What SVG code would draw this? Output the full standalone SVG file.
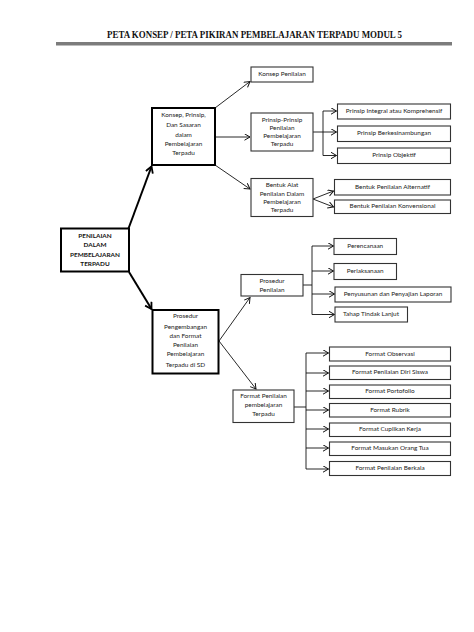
<svg xmlns="http://www.w3.org/2000/svg" width="474" height="632" viewBox="0 0 474 632">
<style>
.bx{fill:#fff;stroke:#333;stroke-width:1.1}
.tk{fill:#fff;stroke:#000;stroke-width:2}
.t{font-family:Lato,"Liberation Sans",sans-serif;font-size:6.4px;fill:#222;text-anchor:middle;dominant-baseline:middle}
.tb{font-family:Lato,"Liberation Sans",sans-serif;font-size:6.4px;fill:#111;text-anchor:middle;dominant-baseline:middle;font-weight:bold}
.ln{fill:none;stroke:#111;stroke-width:0.9}
.thk{fill:none;stroke:#000;stroke-width:2}
</style>
<defs>
<marker id="ah" markerUnits="userSpaceOnUse" markerWidth="10" markerHeight="10" refX="6" refY="3.5" orient="auto" viewBox="0 0 10 10">
<path d="M0.5,0.3 L6,3.5 L0.5,6.7" fill="none" stroke="#111" stroke-width="1"/>
</marker>
<marker id="ahk" markerUnits="userSpaceOnUse" markerWidth="12" markerHeight="12" refX="7" refY="4.5" orient="auto" viewBox="0 0 12 12">
<path d="M0.8,0.8 L7,4.5 L0.8,8.2" fill="none" stroke="#000" stroke-width="1.8"/>
</marker>
</defs>
<rect width="474" height="632" fill="#fff"/>
<g id="title">
<text x="107" y="38" font-family="'Liberation Serif',serif" font-weight="bold" font-size="9.6" fill="#111" textLength="295" lengthAdjust="spacingAndGlyphs">PETA KONSEP / PETA PIKIRAN PEMBELAJARAN TERPADU MODUL 5</text>
<rect x="56" y="42" width="396" height="3.5" fill="#7c7c7c"/>
</g>
<g id="connectors">
<line class="thk" x1="128.5" y1="228.5" x2="151.5" y2="166.5" marker-end="url(#ahk)"/>
<line class="thk" x1="129" y1="272" x2="151.5" y2="309" marker-end="url(#ahk)"/>
<line class="ln" x1="215" y1="108" x2="250" y2="81.5" marker-end="url(#ah)"/>
<line class="ln" x1="216" y1="137" x2="250" y2="137" marker-end="url(#ah)"/>
<line class="ln" x1="215" y1="165" x2="250" y2="189" marker-end="url(#ah)"/>
<polyline class="ln" points="313,132 323,132"/>
<polyline class="ln" points="323,111 323,155.5"/>
<line class="ln" x1="323" y1="111" x2="336.5" y2="111" marker-end="url(#ah)"/>
<line class="ln" x1="323" y1="132" x2="336.5" y2="132" marker-end="url(#ah)"/>
<line class="ln" x1="323" y1="155.5" x2="336.5" y2="155.5" marker-end="url(#ah)"/>
<line class="ln" x1="313" y1="199" x2="333.5" y2="191" marker-end="url(#ah)"/>
<line class="ln" x1="313" y1="199" x2="333.5" y2="207" marker-end="url(#ah)"/>
<line class="ln" x1="219" y1="341" x2="250" y2="297.5" marker-end="url(#ah)"/>
<line class="ln" x1="219" y1="341" x2="256" y2="389" marker-end="url(#ah)"/>
<polyline class="ln" points="303,285 312,285"/>
<polyline class="ln" points="312,246 312,314.5"/>
<line class="ln" x1="312" y1="246" x2="333.5" y2="246" marker-end="url(#ah)"/>
<line class="ln" x1="312" y1="271" x2="333.5" y2="271" marker-end="url(#ah)"/>
<line class="ln" x1="312" y1="294" x2="334.5" y2="294" marker-end="url(#ah)"/>
<line class="ln" x1="312" y1="314.5" x2="334.5" y2="314.5" marker-end="url(#ah)"/>
<polyline class="ln" points="294,407 306,407"/>
<polyline class="ln" points="306,353 306,469"/>
<line class="ln" x1="306" y1="353" x2="328.5" y2="353" marker-end="url(#ah)"/>
<line class="ln" x1="306" y1="373" x2="328.5" y2="373" marker-end="url(#ah)"/>
<line class="ln" x1="306" y1="391" x2="328.5" y2="391" marker-end="url(#ah)"/>
<line class="ln" x1="306" y1="410" x2="328.5" y2="410" marker-end="url(#ah)"/>
<line class="ln" x1="306" y1="429" x2="328.5" y2="429" marker-end="url(#ah)"/>
<line class="ln" x1="306" y1="448" x2="328.5" y2="448" marker-end="url(#ah)"/>
<line class="ln" x1="306" y1="469" x2="328.5" y2="469" marker-end="url(#ah)"/>
</g>
<g id="n-penilaian">
<rect class="tk" x="61" y="228.5" width="68" height="43"/>
<text class="tb" x="95" y="236.5">PENILAIAN</text>
<text class="tb" x="95" y="245.5">DALAM</text>
<text class="tb" x="95" y="255">PEMBELAJARAN</text>
<text class="tb" x="95" y="264.3">TERPADU</text>
</g>
<g id="n-konsep">
<rect class="tk" x="152" y="108" width="63" height="57"/>
<text class="t" x="183.5" y="115.5">Konsep, Prinsip,</text>
<text class="t" x="183.5" y="125.3">Dan Sasaran</text>
<text class="t" x="183.5" y="135">dalam</text>
<text class="t" x="183.5" y="144.2">Pembelajaran</text>
<text class="t" x="183.5" y="153.5">Terpadu</text>
</g>
<g id="n-konsep-penilaian">
<rect class="bx" x="251" y="67" width="62" height="15"/>
<text class="t" x="282" y="74.5">Konsep Penilaian</text>
</g>
<g id="n-prinsip">
<rect class="bx" x="251" y="113" width="62" height="38"/>
<text class="t" x="282" y="120.2">Prinsip-Prinsip</text>
<text class="t" x="282" y="128.3">Penilaian</text>
<text class="t" x="282" y="136.2">Pembelajaran</text>
<text class="t" x="282" y="144.2">Terpadu</text>
</g>
<g id="n-integral">
<rect class="bx" x="337.5" y="104" width="113" height="15"/>
<text class="t" x="394" y="111.5">Prinsip Integral atau Komprehensif</text>
</g>
<g id="n-berkesinambungan">
<rect class="bx" x="337.5" y="126" width="113" height="15.5"/>
<text class="t" x="394" y="133.8">Prinsip Berkesinambungan</text>
</g>
<g id="n-objektif">
<rect class="bx" x="337.5" y="148" width="113" height="15.5"/>
<text class="t" x="394" y="155.8">Prinsip Objektif</text>
</g>
<g id="n-bentuk">
<rect class="bx" x="251" y="178.5" width="62" height="38"/>
<text class="t" x="282" y="185.2">Bentuk Alat</text>
<text class="t" x="282" y="194">Penilaian Dalam</text>
<text class="t" x="282" y="202.6">Pembelajaran</text>
<text class="t" x="282" y="210.8">Terpadu</text>
</g>
<g id="n-alternatif">
<rect class="bx" x="334.5" y="179.5" width="116" height="15.5"/>
<text class="t" x="392.5" y="187.3">Bentuk Penilaian Alternatif</text>
</g>
<g id="n-konvensional">
<rect class="bx" x="334.5" y="200" width="116" height="13.5"/>
<text class="t" x="392.5" y="206.8">Bentuk Penilaian Konvensional</text>
</g>
<g id="n-pengembangan">
<rect class="tk" x="152.5" y="310" width="66" height="63.5"/>
<text class="t" x="185.5" y="316.8">Prosedur</text>
<text class="t" x="185.5" y="327.2">Pengembangan</text>
<text class="t" x="185.5" y="336.7">dan Format</text>
<text class="t" x="185.5" y="345.7">Penilaian</text>
<text class="t" x="185.5" y="354.8">Pembelajaran</text>
<text class="t" x="185.5" y="365.5">Terpadu di SD</text>
</g>
<g id="n-prosedur">
<rect class="bx" x="241" y="274.5" width="62" height="21.5"/>
<text class="t" x="272" y="281.8">Prosedur</text>
<text class="t" x="272" y="290">Penilaian</text>
</g>
<g id="n-perencanaan">
<rect class="bx" x="334" y="238.5" width="62.5" height="16"/>
<text class="t" x="365.2" y="246.5">Perencanaan</text>
</g>
<g id="n-perlaksanaan">
<rect class="bx" x="334" y="263.5" width="62.5" height="16"/>
<text class="t" x="365.2" y="271.5">Perlaksanaan</text>
</g>
<g id="n-penyusunan">
<rect class="bx" x="335" y="287" width="116" height="15"/>
<text class="t" x="393" y="294.5">Penyusunan dan Penyajian Laporan</text>
</g>
<g id="n-tahap">
<rect class="bx" x="335" y="307" width="72.5" height="15"/>
<text class="t" x="371" y="314.2">Tahap Tindak Lanjut</text>
</g>
<g id="n-format">
<rect class="bx" x="233" y="390" width="61" height="32.5"/>
<text class="t" x="263.5" y="396.8">Format Penilaian</text>
<text class="t" x="263.5" y="405.7">pembelajaran</text>
<text class="t" x="263.5" y="414.2">Terpadu</text>
</g>
<g id="n-observasi">
<rect class="bx" x="329.5" y="347" width="121" height="14"/>
<text class="t" x="390" y="354">Format Observasi</text>
</g>
<g id="n-diri-siswa">
<rect class="bx" x="329.5" y="366" width="121" height="13.5"/>
<text class="t" x="390" y="372.8">Format Penilaian Diri Siswa</text>
</g>
<g id="n-portofolio">
<rect class="bx" x="329.5" y="385" width="121" height="13.5"/>
<text class="t" x="390" y="391.8">Format Portofolio</text>
</g>
<g id="n-rubrik">
<rect class="bx" x="329.5" y="403.5" width="121" height="13.5"/>
<text class="t" x="390" y="410.3">Format Rubrik</text>
</g>
<g id="n-cuplikan">
<rect class="bx" x="329.5" y="423" width="121" height="13.5"/>
<text class="t" x="390" y="429.8">Format Cuplikan Kerja</text>
</g>
<g id="n-masukan">
<rect class="bx" x="329.5" y="442" width="121" height="13.5"/>
<text class="t" x="390" y="448.8">Format Masukan Orang Tua</text>
</g>
<g id="n-berkala">
<rect class="bx" x="329.5" y="461.5" width="121" height="14"/>
<text class="t" x="390" y="468.5">Format Penilaian Berkala</text>
</g>
</svg>
